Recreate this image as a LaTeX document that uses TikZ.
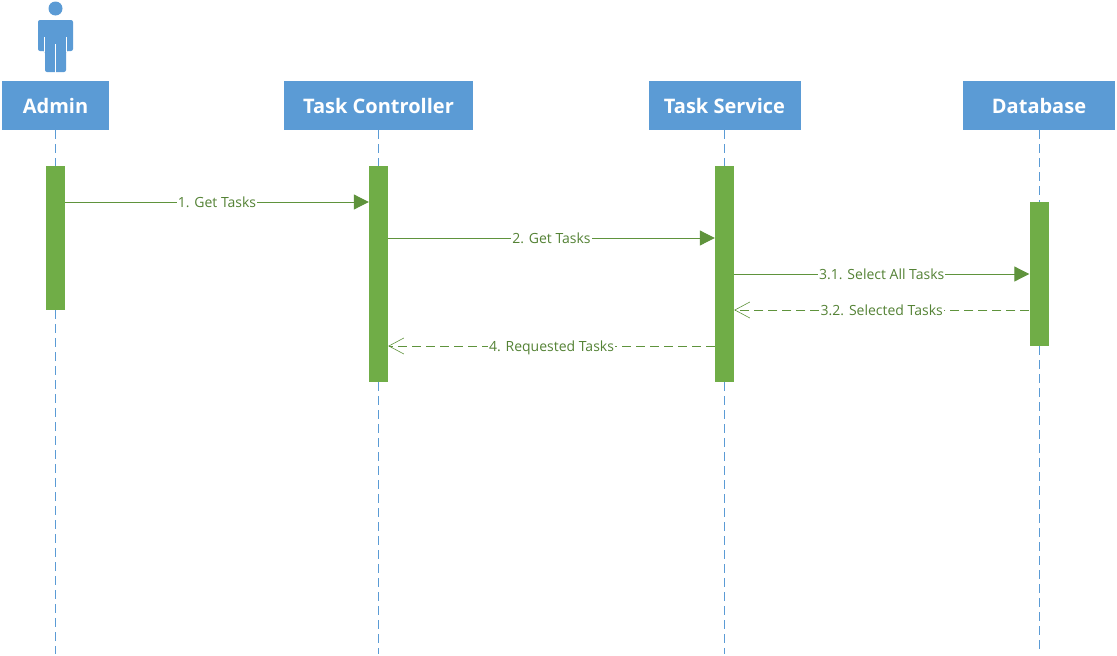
\documentclass[tikz,border=0pt]{standalone}
\usepackage{fontspec}
\setmainfont{Open Sans}
\usetikzlibrary{arrows.meta,positioning}
\definecolor{headblue}{RGB}{91,155,213}
\definecolor{bargreen}{RGB}{112,173,71}
\definecolor{msggreen}{RGB}{84,130,53}
\tikzset{
	header/.style={fill=headblue,text=white,font=\fontsize{20}{24}\selectfont\bfseries,minimum height=49pt,inner sep=0pt},
	bar/.style={fill=bargreen,minimum width=19pt,inner sep=0pt},
	lifeline/.style={headblue,line width=1pt,dash pattern=on 9pt off 5pt},
	msg/.style={bargreen!85!black,line width=1pt},
	call/.style={msg,-{Triangle[length=15pt,width=15pt]}},
	reply/.style={msg,dash pattern=on 9pt off 5pt,-{Straight Barb[length=15pt,width=16pt,line width=.6pt]}},
	lbl/.style={fill=white,text=msggreen,font=\fontsize{14}{17}\selectfont,inner sep=1pt,text height=12pt,text depth=2pt}
}
\begin{document}
\begin{tikzpicture}[x=1pt,y=-1pt]
	\useasboundingbox (0,0) rectangle (1117,656);

	\node[header,minimum width=107pt] (admin) at (55.5,105.5) {Admin};
	\node[header,minimum width=189pt] (ctrl) at (378.5,105.5) {Task Controller};
	\node[header,minimum width=152pt] (serv) at (724.5,105.5) {Task Service};
	\node[header,minimum width=152pt] (db) at (1039,105.5) {Database};

	\node[bar,minimum height=144pt] (barA) at (55.5,238) {};
	\node[bar,minimum height=216pt] (barC) at (378.5,274) {};
	\node[bar,minimum height=216pt] (barS) at (724.5,274) {};
	\node[bar,minimum height=144pt] (barD) at (1039,274) {};

	% lifelines
	\foreach \h/\b in {admin/barA,ctrl/barC,serv/barS,db/barD} {
		\coordinate (end\h) at (\b |- 0,654);
		\draw[lifeline] (\b |- \h.south) -- (\b.north);
		\draw[lifeline] (\b.south) -- (end\h);
	}

	% actor
	\fill[headblue] (55.5,8.5) circle (7pt);
	\fill[headblue,rounded corners=2pt] (38,51) -- (38,20) -- (73,20) -- (73,51) -- (66,51) -- (66,72) -- (45,72) -- (45,51) -- cycle;
	\draw[white,line width=.8pt] (44.5,37) -- (44.5,51.5) (66.5,37) -- (66.5,51.5) (55.5,44) -- (55.5,72.5);

	% messages
	\coordinate (m1) at (0,202);
	\coordinate (m2) at (0,238);
	\coordinate (m3) at (0,274);
	\coordinate (m4) at (0,310);
	\coordinate (m5) at (0,346);

	\path (barA.east |- m1) edge[call] node[lbl] (l1) {1. Get Tasks} (barC.west |- m1);
	\path (barC.east |- m2) edge[call] node[lbl] (l2) {2. Get Tasks} (barS.west |- m2);
	\path (barS.east |- m3) edge[call] node[lbl] (l3) {3.1. Select All Tasks} (barD.west |- m3);
	\path (barD.west |- m4) edge[reply] node[lbl] (l4) {3.2. Selected Tasks} (barS.east |- m4);
	\path (barS.west |- m5) edge[reply] node[lbl] (l5) {4. Requested Tasks} (barC.east |- m5);
\end{tikzpicture}
\end{document}
